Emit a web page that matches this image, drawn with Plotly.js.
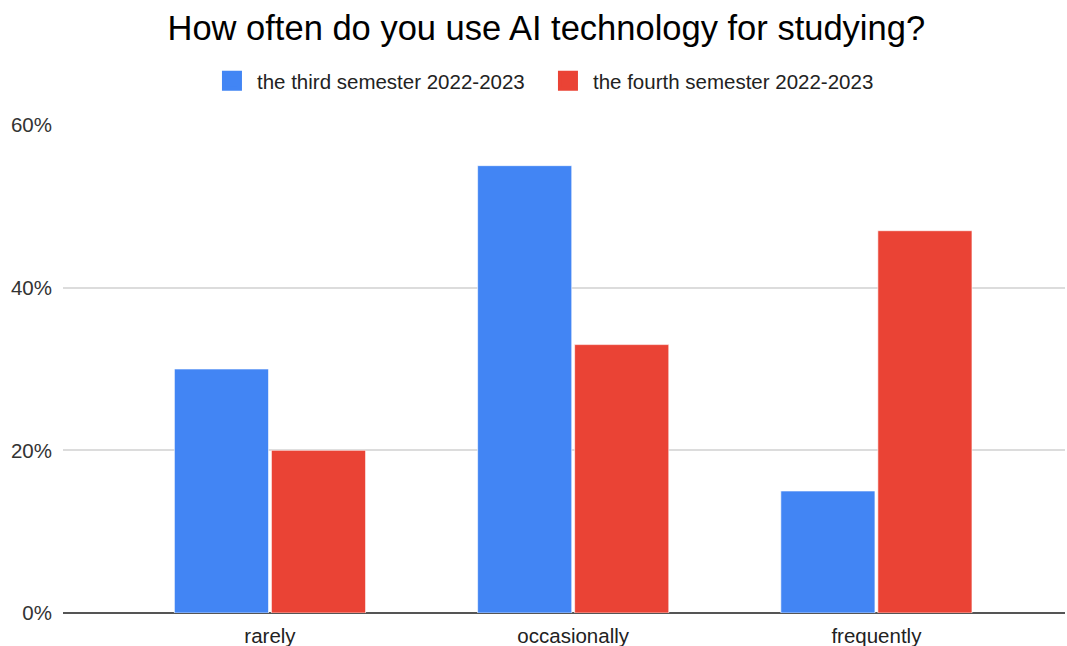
<!DOCTYPE html>
<html>
<head>
<meta charset="utf-8">
<script src="https://cdn.plot.ly/plotly-3.0.1.min.js"></script>
<style>html,body{margin:0;padding:0;background:#fff;}#chart{width:1067px;height:646px;}</style>
</head>
<body>
<div id="chart"></div>
<script>
const categories = ["rarely", "occasionally", "frequently"];
const seriesNames = ["the third semester 2022-2023", "the fourth semester 2022-2023"];
const thirdSemester = [0.30, 0.55, 0.15];
const fourthSemester = [0.20, 0.33, 0.47];
const seriesColors = ["#4285F4", "#EA4335"];
const yTicks = [0, 0.2, 0.4, 0.6];
const yTickLabels = ["0%", "20%", "40%", "60%"];

const traces = [
  {type: "bar", name: seriesNames[0], x: categories, y: thirdSemester, showlegend: false,
   marker: {color: seriesColors[0], line: {color: "rgba(255,255,255,0.6)", width: 1}}, hoverinfo: "none"},
  {type: "bar", name: seriesNames[1], x: categories, y: fourthSemester, showlegend: false,
   marker: {color: seriesColors[1], line: {color: "rgba(255,255,255,0.6)", width: 1}}, hoverinfo: "none"},
  // legend entries (larger square swatches)
  {type: "scatter", mode: "markers", name: seriesNames[0], x: [null], y: [null], hoverinfo: "none",
   marker: {symbol: "square", size: 16, color: seriesColors[0], line: {color: seriesColors[0], width: 4}}},
  {type: "scatter", mode: "markers", name: seriesNames[1], x: [null], y: [null], hoverinfo: "none",
   marker: {symbol: "square", size: 16, color: seriesColors[1], line: {color: seriesColors[1], width: 4}}}
];

const layout = {
  width: 1067, height: 646,
  paper_bgcolor: "#fff", plot_bgcolor: "#fff",
  font: {family: "Liberation Sans, Arial, sans-serif", color: "#222"},
  margin: {l: 63, r: 2, t: 125, b: 33, pad: 0},
  title: {text: "How often do you use AI technology for studying?", font: {size: 34.5, color: "#000"},
          x: 0.512, xanchor: "center", y: 1 - 28/646, yanchor: "middle", yref: "container"},
  showlegend: true,
  legend: {orientation: "h", x: 0.479, xanchor: "center", yref: "container", y: 1 - 81/646, yanchor: "middle",
           font: {size: 20.5, color: "#222"}, itemwidth: 40, entrywidth: 281, entrywidthmode: "pixels",
           traceorder: "normal"},
  barmode: "group", bargap: 0.36, bargroupgap: 0.03,
  xaxis: {type: "category", categoryarray: categories, categoryorder: "array", range: [-0.6826, 2.622],
          showgrid: false, zeroline: false, showline: false,
          ticks: "", ticklabelstandoff: 8, tickfont: {size: 20.5, color: "#222"}, fixedrange: true},
  yaxis: {range: [0, 0.6], tickvals: yTicks, ticktext: yTickLabels, showgrid: true, gridcolor: "#dcdcdc", gridwidth: 2,
          zeroline: true, zerolinecolor: "#555", zerolinewidth: 2, showline: false, ticks: "",
          ticklabelstandoff: 10, tickfont: {size: 20.5, color: "#333"}, fixedrange: true}
};

Plotly.newPlot("chart", traces, layout, {staticPlot: true, displayModeBar: false});
</script>
</body>
</html>
